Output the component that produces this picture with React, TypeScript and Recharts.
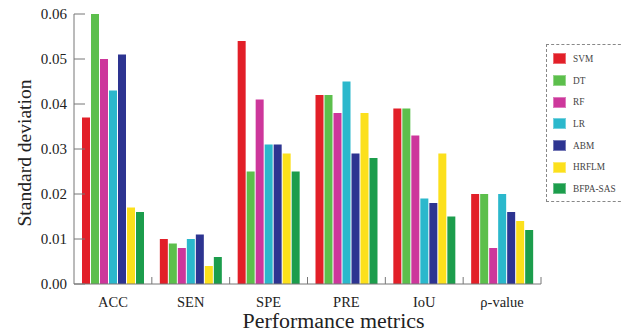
import React from 'react';
import { BarChart, Bar, XAxis, YAxis, Legend } from 'recharts';

const categories = ['ACC', 'SEN', 'SPE', 'PRE', 'IoU', 'ρ-value'];
const seriesNames = ['SVM', 'DT', 'RF', 'LR', 'ABM', 'HRFLM', 'BFPA-SAS'];
const seriesColors = ['#e21f28', '#5cbf4c', '#cd379b', '#2bb8cc', '#2d3491', '#fce01c', '#1c9d4c'];

const svmValues = [0.037, 0.010, 0.054, 0.042, 0.039, 0.020];
const dtValues = [0.060, 0.009, 0.025, 0.042, 0.039, 0.020];
const rfValues = [0.050, 0.008, 0.041, 0.038, 0.033, 0.008];
const lrValues = [0.043, 0.010, 0.031, 0.045, 0.019, 0.020];
const abmValues = [0.051, 0.011, 0.031, 0.029, 0.018, 0.016];
const hrflmValues = [0.017, 0.004, 0.029, 0.038, 0.029, 0.014];
const bfpaValues = [0.016, 0.006, 0.025, 0.028, 0.015, 0.012];

const yTicks = [0, 0.01, 0.02, 0.03, 0.04, 0.05, 0.06];

const seriesValues = [svmValues, dtValues, rfValues, lrValues, abmValues, hrflmValues, bfpaValues];

const data = categories.map((c, i) => {
  const row: Record<string, any> = { name: c };
  seriesNames.forEach((s, j) => {
    row[s] = seriesValues[j][i];
  });
  return row;
});

const W = 621;
const H = 333;
const margin = { top: 14, right: 0, bottom: 0, left: 0 };
const yAxisWidth = 74;
const legendWidth = 80;
const xAxisHeight = 49;
const plotWidth = W - margin.left - margin.right - yAxisWidth - legendWidth;
const band = plotWidth / categories.length;

const FONT = '"Liberation Serif", "DejaVu Serif", serif';
const AXIS = '#777';

const YTick = (props: any) => {
  const { x, y, payload } = props;
  const m = 7;
  return (
    <g>
      <line x1={x + m} x2={x + m + 11} y1={y} y2={y} stroke={AXIS} strokeWidth={1} />
      <text x={x} y={y} dy="0.36em" textAnchor="end" fontFamily={FONT} fontSize={15} fill="#222">
        {Number(payload.value).toFixed(2)}
      </text>
    </g>
  );
};

const XTick = (props: any) => {
  const { x, y, payload } = props;
  const m = 13;
  const bx = x + band / 2;
  return (
    <g>
      <line x1={bx} x2={bx} y1={y - m} y2={y - m - 7} stroke={AXIS} strokeWidth={1} />
      <text x={x} y={y + 10} textAnchor="middle" fontFamily={FONT} fontSize={14.5} fill="#222">
        {payload.value}
      </text>
    </g>
  );
};

const LegendContent = (props: any) => {
  const { payload } = props;
  const items = [...(payload || [])].sort(
    (a: any, b: any) => seriesNames.indexOf(a.value) - seriesNames.indexOf(b.value)
  );
  return (
    <div
      style={{
        width: legendWidth,
        height: 158,
        boxSizing: 'border-box',
        border: '1px dashed #888',
        borderRight: 'none',
        paddingTop: 3,
        paddingLeft: 6,
      }}
    >
      {items.map((p: any) => (
        <div key={p.value} style={{ display: 'flex', alignItems: 'center', height: 21.7 }}>
          <div style={{ width: 13, height: 11, background: p.color, boxShadow: '0 0 0 1px rgba(255,255,255,0.35) inset' }} />
          <span style={{ marginLeft: 7, fontFamily: FONT, fontSize: 9.3, color: '#444' }}>{p.value}</span>
        </div>
      ))}
    </div>
  );
};

export default function App() {
  return (
    <div style={{ width: W, height: H, background: '#fff', position: 'relative' }}>
      <style>{`body{margin:0;}`}</style>
      <BarChart width={W} height={H} data={data} margin={margin} barCategoryGap={8} barGap={1}>
        <XAxis
          dataKey="name"
          height={xAxisHeight}
          tickSize={0}
          tickMargin={13}
          stroke={AXIS}
          tick={<XTick />}
          interval={0}
          label={(p: any) => {
            const vb = p.viewBox || {};
            return (
              <text
                x={vb.x + vb.width / 2 + 26}
                y={vb.y + 44}
                textAnchor="middle"
                fontFamily={FONT}
                fontSize={20}
                textLength={182}
                lengthAdjust="spacingAndGlyphs"
                fill="#222"
              >
                Performance metrics
              </text>
            );
          }}
        />
        <YAxis
          width={yAxisWidth}
          domain={[0, 0.06]}
          ticks={yTicks}
          tickSize={0}
          tickMargin={7}
          stroke={AXIS}
          tick={<YTick />}
          interval={0}
          label={(p: any) => {
            const vb = p.viewBox || {};
            const cx = 31;
            const cy = vb.y + vb.height / 2 + 4;
            return (
              <text
                x={cx}
                y={cy}
                transform={`rotate(-90 ${cx} ${cy})`}
                textAnchor="middle"
                fontFamily={FONT}
                fontSize={19.5}
                textLength={147}
                lengthAdjust="spacingAndGlyphs"
                fill="#222"
              >
                Standard deviation
              </text>
            );
          }}
        />
        <Legend
          layout="vertical"
          align="right"
          verticalAlign="top"
          wrapperStyle={{ left: 546, top: 44, width: legendWidth }}
          content={<LegendContent />}
        />
        {seriesNames.map((s, i) => (
          <Bar key={s} dataKey={s} name={s} fill={seriesColors[i]} isAnimationActive={false} />
        ))}
      </BarChart>
    </div>
  );
}
